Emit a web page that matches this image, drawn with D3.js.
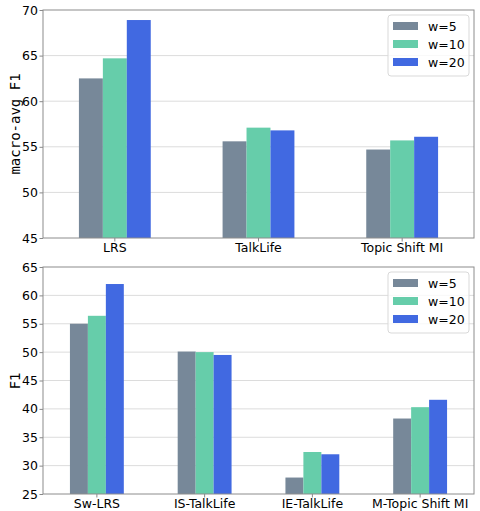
<!DOCTYPE html>
<html>
<head>
<meta charset="utf-8">
<script src="https://cdn.jsdelivr.net/npm/d3@7"></script>
<style>
  body { margin: 0; background: #fff; }
  svg { display: block; font-family: "DejaVu Sans", sans-serif; }
</style>
</head>
<body>
<svg id="chart" width="480" height="511"></svg>
<script>
/* ---------- Daten ---------- */
const seriesNames = ["w=5", "w=10", "w=20"];
const seriesColors = ["#778899", "#66cdaa", "#4169e1"];

const topCategories = ["LRS", "TalkLife", "Topic Shift MI"];
const topW5  = [62.5, 55.6, 54.7];
const topW10 = [64.7, 57.1, 55.7];
const topW20 = [68.9, 56.8, 56.1];
const topTicks = [45, 50, 55, 60, 65, 70];

const botCategories = ["Sw-LRS", "IS-TalkLife", "IE-TalkLife", "M-Topic Shift MI"];
const botW5  = [55.0, 50.1, 27.9, 38.3];
const botW10 = [56.4, 50.0, 32.4, 40.3];
const botW20 = [62.0, 49.5, 32.0, 41.6];
const botTicks = [25, 30, 35, 40, 45, 50, 55, 60, 65];

const svg = d3.select("#chart");
const color = d3.scaleOrdinal().domain(seriesNames).range(seriesColors);

function panel(opts) {
  const { x0, x1, y0, y1, cats, series, ticks, label, mono } = opts;
  const g = svg.append("g");

  const x = d3.scaleBand().domain(cats).range([x0, x1]);
  const xs = d3.scaleBand().domain(seriesNames).range([0, x.bandwidth() * 0.5]);
  const y = d3.scaleLinear().domain([ticks[0], ticks[ticks.length - 1]]).range([y1, y0]);

  // Gitter
  g.append("g").selectAll("line").data(ticks.slice(1, -1)).enter().append("line")
    .attr("x1", x0).attr("x2", x1)
    .attr("y1", d => y(d)).attr("y2", d => y(d))
    .attr("stroke", "#dcdcdc").attr("stroke-width", 1);

  // Balken
  const rows = cats.map((c, i) => seriesNames.map((s, j) => ({ cat: c, s, v: series[j][i] })));
  g.append("g").selectAll("g").data(rows).enter().append("g")
    .attr("transform", d => `translate(${x(d[0].cat) + x.bandwidth() * 0.25},0)`)
    .selectAll("rect").data(d => d).enter().append("rect")
      .attr("x", d => xs(d.s))
      .attr("width", xs.bandwidth())
      .attr("y", d => y(d.v))
      .attr("height", d => y1 - y(d.v))
      .attr("fill", d => color(d.s));

  // Achsen
  const yAxis = g.append("g").attr("transform", `translate(${x0},0)`)
    .call(d3.axisLeft(y).tickValues(ticks).tickSize(3.5).tickPadding(1.5));
  const xAxis = g.append("g").attr("transform", `translate(0,${y1})`)
    .call(d3.axisBottom(x).tickSize(3.5).tickPadding(2));
  [yAxis, xAxis].forEach(a => {
    a.select(".domain").remove();
    a.selectAll("line").attr("stroke", "#888");
    a.selectAll("text").attr("fill", "#000").attr("font-size", 12.5)
      .attr("font-family", "DejaVu Sans, sans-serif");
  });

  // Rahmen
  g.append("rect").attr("x", x0).attr("y", y0)
    .attr("width", x1 - x0).attr("height", y1 - y0)
    .attr("fill", "none").attr("stroke", "#8c8c8c").attr("stroke-width", 1);

  // Y-Beschriftung
  g.append("text")
    .attr("transform", `translate(20,${(y0 + y1) / 2}) rotate(-90)`)
    .attr("text-anchor", "middle")
    .attr("font-size", 14)
    .attr("font-family", mono ? "DejaVu Sans Mono, monospace" : "DejaVu Sans, sans-serif")
    .text(label);

  // Legende
  const lg = g.append("g").attr("transform", `translate(388,${y0 + 5})`);
  lg.append("rect").attr("width", 81).attr("height", 61).attr("rx", 3)
    .attr("fill", "#fff").attr("fill-opacity", 0.8)
    .attr("stroke", "#d9d9d9");
  lg.selectAll("g").data(seriesNames).enter().append("g")
    .attr("transform", (d, i) => `translate(5,${11 + i * 18})`)
    .call(e => {
      e.append("rect").attr("x", 0).attr("y", -4).attr("width", 25).attr("height", 8)
        .attr("fill", d => color(d));
      e.append("text").attr("x", 35).attr("y", 4.5).attr("font-size", 12.5).text(d => d);
    });
}

panel({ x0: 43, x1: 474, y0: 10, y1: 238, cats: topCategories,
        series: [topW5, topW10, topW20], ticks: topTicks, label: "macro-avg F1", mono: true });
panel({ x0: 43, x1: 474, y0: 267, y1: 494, cats: botCategories,
        series: [botW5, botW10, botW20], ticks: botTicks, label: "F1", mono: false });
</script>
</body>
</html>
